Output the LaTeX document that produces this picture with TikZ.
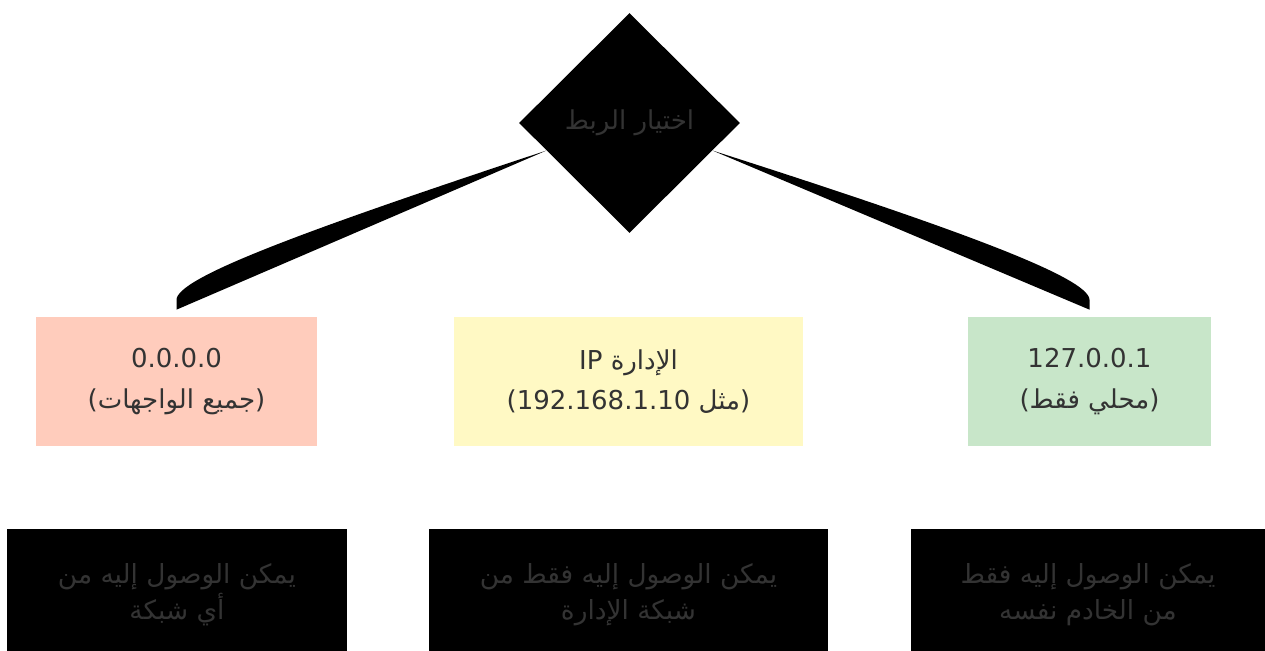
\documentclass[tikz,border=0pt]{standalone}
\usepackage{fontspec}
\setmainfont{DejaVu Sans}
\newfontfamily\arabicfont[Script=Arabic]{DejaVu Sans}
\TeXXeTstate=1
\usetikzlibrary{shapes.geometric,calc}

\definecolor{allColor}{RGB}{255,204,188}
\definecolor{mgmtColor}{RGB}{255,249,196}
\definecolor{localColor}{RGB}{200,230,201}
\definecolor{textColor}{RGB}{51,51,51}

\newcommand\lpar{{\rmfamily(}}
\newcommand\rpar{{\rmfamily)}}

\tikzset{
  bindText/.style={text=textColor, align=center, inner sep=0pt,
    font=\arabicfont\fontsize{14.8}{23}\selectfont},
  addrBox/.style={bindText, rectangle, minimum height=2.58cm},
  noteBox/.style={bindText, rectangle, fill=black, minimum height=2.62cm,
    font=\arabicfont\fontsize{15}{20.5}\selectfont},
}

\begin{document}
\begin{tikzpicture}[x=0.02cm,y=-0.02cm]
  \useasboundingbox (0,0) rectangle (1265,651);
  % Choice
  \node[bindText, diamond, fill=black, minimum width=4.42cm, minimum height=4.4cm] (bind) at (629.5,123) {\beginR اختيار الربط\endR};
  % Addresses
  \node[addrBox, fill=allColor, minimum width=5.62cm] (allIf) at (176.5,381.5) {{\rmfamily 0.0.0.0}\\\lpar\mbox{\beginR جميع الواجهات\endR}\rpar};
  \node[addrBox, fill=mgmtColor, minimum width=6.98cm] (mgmtIf) at (628.5,381.5) {\beginR الإدارة \beginL{\rmfamily IP}\endL\endR\\\lpar\mbox{\beginR مثل \beginL{\rmfamily 192.168.1.10}\endL\endR}\rpar};
  \node[addrBox, fill=localColor, minimum width=4.86cm] (localIf) at (1089.5,381.5) {{\rmfamily 127.0.0.1}\\\lpar\mbox{\beginR محلي فقط\endR}\rpar};
  % Notes
  \node[noteBox, minimum width=6.8cm] (allNote) at (177,594.5) {\beginR يمكن الوصول إليه من\endR\\\beginR أي شبكة\endR};
  \node[noteBox, minimum width=7.98cm] (mgmtNote) at (628.5,594.5) {\beginR يمكن الوصول إليه فقط من\endR\\\beginR شبكة الإدارة\endR};
  \node[noteBox, minimum width=7.08cm] (localNote) at (1088,594.5) {\beginR يمكن الوصول إليه فقط\endR\\\beginR من الخادم نفسه\endR};
  % Links
  \fill ($(bind.west)!.25!(bind.south)$) -- ([yshift=.14cm]allIf.north) -- ([yshift=.34cm]allIf.north)
    .. controls +(1,-22) and +(-246.5,81.5) .. ($(bind.west)!.25!(bind.south)$) -- cycle;
  \fill ($(bind.east)!.25!(bind.south)$) -- ([yshift=.14cm]localIf.north) -- ([yshift=.34cm]localIf.north)
    .. controls +(-1,-22) and +(250,80) .. ($(bind.east)!.25!(bind.south)$) -- cycle;
\end{tikzpicture}
\end{document}
